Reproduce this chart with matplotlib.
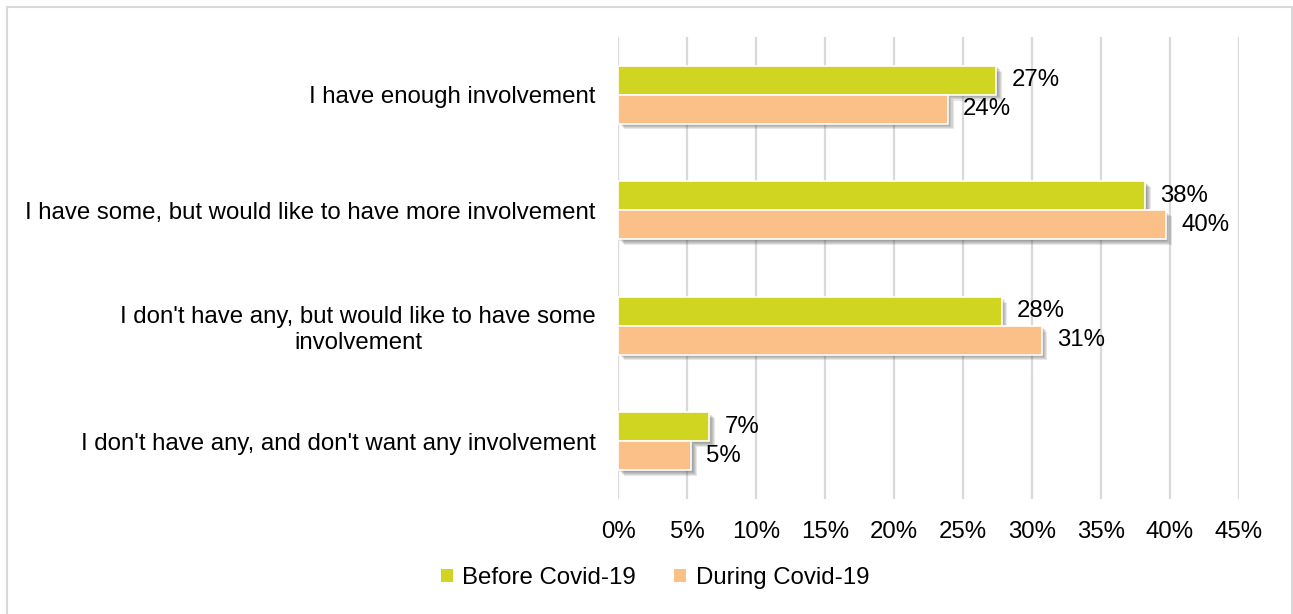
import matplotlib
matplotlib.use("Agg")
import matplotlib.pyplot as plt
import matplotlib.patheffects as pe
from matplotlib.patches import Rectangle, Patch
from matplotlib.ticker import FuncFormatter
import numpy as np

plt.rcParams['font.family'] = ['Liberation Sans', 'DejaVu Sans']

categories = [
    "I have enough involvement",
    "I have some, but would like to have more involvement",
    "I don't have any, but would like to have some\ninvolvement",
    "I don't have any, and don't want any involvement",
]
series_names = ["Before Covid-19", "During Covid-19"]
before = [27.4, 38.2, 27.8, 6.6]
during = [23.9, 39.7, 30.7, 5.3]
tick_values = [0, 5, 10, 15, 20, 25, 30, 35, 40, 45]

green = "#D0D521"
orange = "#FAC088"
grid_col = "#D9D9D9"
fs = 17.25

fig = plt.figure(figsize=(12.93, 6.14), dpi=100)
fig.patch.set_facecolor("white")

# outer frame
fig.add_artist(Rectangle((7 / 1293, -0.01), (1292 - 7) / 1293, (614 - 7) / 614 + 0.01,
                         transform=fig.transFigure, fill=False,
                         edgecolor="#D9D9D9", linewidth=1.5))

ax = fig.add_axes([618 / 1293, 1 - 499 / 614, (1239 - 618) / 1293, (499 - 37) / 614])

y = np.arange(len(categories))
h = 0.25

# soft drop shadow built from a few stacked, offset translucent copies
shadow = [pe.SimplePatchShadow(offset=(d, -d), shadow_rgbFace="#404040", alpha=0.12)
          for d in (1.0, 1.8, 2.6, 3.4, 4.2)] + [pe.Normal()]

b1 = ax.barh(y - h / 2, before, height=h, color=green, edgecolor="white",
             linewidth=1.2, zorder=3)
b2 = ax.barh(y + h / 2, during, height=h, color=orange, edgecolor="white",
             linewidth=1.2, zorder=3)
for bars in (b1, b2):
    for p in bars:
        p.set_path_effects(shadow)

for bars, vals in ((b1, before), (b2, during)):
    for p, v in zip(bars, vals):
        ax.annotate(f"{v:.0f}%", xy=(v, p.get_y() + p.get_height() / 2),
                    xytext=(11, 0), textcoords="offset points",
                    ha="left", va="center", fontsize=fs, color="#000000", zorder=4)

ax.set_xlim(0, 45)
ax.set_ylim(len(categories) - 0.5, -0.5)
ax.set_xticks(tick_values)
ax.xaxis.set_major_formatter(FuncFormatter(lambda v, _: f"{v:.0f}%"))
ax.set_yticks(y)
ax.set_yticklabels(categories, fontsize=fs)
for lbl in ax.get_yticklabels():
    lbl.set_multialignment("center")
ax.tick_params(axis="x", labelsize=fs, length=0, pad=16)
ax.tick_params(axis="y", length=0, pad=16)
ax.grid(axis="x", color=grid_col, linewidth=1.6, zorder=0)
ax.set_axisbelow(True)
for s in ax.spines.values():
    s.set_visible(False)

handles = [Patch(facecolor=green, edgecolor="none"), Patch(facecolor=orange, edgecolor="none")]
fig.legend(handles=handles, labels=series_names, loc="center",
           bbox_to_anchor=(655 / 1293, 1 - 578 / 614), ncol=2, frameon=False,
           fontsize=fs, handlelength=0.5, handleheight=0.5, handletextpad=0.4,
           columnspacing=1.6)

fig.savefig("out.png", dpi=100, facecolor="white")
